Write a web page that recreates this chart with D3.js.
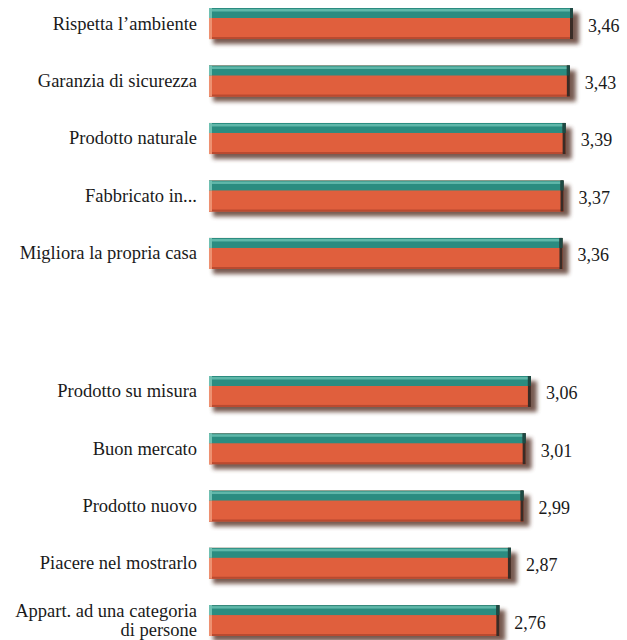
<!DOCTYPE html>
<html><head><meta charset="utf-8">
<script src="https://cdn.jsdelivr.net/npm/d3@7"></script>
<style>html,body{margin:0;padding:0;background:#fff;} svg{display:block;} text{font-family:'Liberation Serif','Times New Roman',serif;}</style>
</head><body>
<script>
const group1 = ["Rispetta l’ambiente","Garanzia di sicurezza","Prodotto naturale","Fabbricato in...","Migliora la propria casa"];
const values1 = [3.46,3.43,3.39,3.37,3.36];
const group2 = ["Prodotto su misura","Buon mercato","Prodotto nuovo","Piacere nel mostrarlo","Appart. ad una categoria\ndi persone"];
const values2 = [3.06,3.01,2.99,2.87,2.76];
const valueLabels1 = ["3,46","3,43","3,39","3,37","3,36"];
const valueLabels2 = ["3,06","3,01","2,99","2,87","2,76"];

const W = 627, H = 640;
const svg = d3.select("body").append("svg").attr("width", W).attr("height", H);
const defs = svg.append("defs");
const f = defs.append("filter").attr("id","sh").attr("x","-5%").attr("y","-50%").attr("width","115%").attr("height","250%");
f.append("feGaussianBlur").attr("stdDeviation", 2);

const x = d3.scaleLinear().domain([0, 3.46]).range([209, 573]);
const y1 = d3.scaleBand().domain(group1).range([8, 269]).paddingInner(0.46).paddingOuter(0);
const y2 = d3.scaleBand().domain(group2).range([376, 636]).paddingInner(0.46).paddingOuter(0);

function drawGroup(names, vals, labels, y) {
  const barH = y.bandwidth();
  const g = svg.append("g");
  const rows = names.map((n, i) => ({name: n, v: vals[i], lab: labels[i]}));
  const r = g.selectAll("g.row").data(rows).join("g").attr("class","row")
    .attr("transform", d => `translate(0,${y(d.name)})`);
  // shadow
  r.append("rect").attr("x", x(0) + 4).attr("y", 5).attr("width", d => x(d.v) - x(0) + 2).attr("height", barH)
    .attr("fill", "#5e3e30").attr("opacity", 0.85).attr("filter","url(#sh)");
  // orange body
  r.append("rect").attr("x", x(0)).attr("y", 0).attr("width", d => x(d.v) - x(0)).attr("height", barH).attr("fill", "#e05f3d");
  // teal top
  r.append("rect").attr("x", x(0)).attr("y", 0).attr("width", d => x(d.v) - x(0)).attr("height", 10).attr("fill", "#2b8c80");
  r.append("rect").attr("x", x(0)).attr("y", 1).attr("width", d => x(d.v) - x(0)).attr("height", 2.5).attr("fill", "#5fb7a9");
  // lower darker strip on orange
  r.append("rect").attr("x", x(0)).attr("y", barH - 2).attr("width", d => x(d.v) - x(0)).attr("height", 2).attr("fill", "#b94a30");
  // left bevel
  r.append("rect").attr("x", x(0)).attr("y", 10).attr("width", 3).attr("height", barH - 10).attr("fill", "#ee9070");
  r.append("rect").attr("x", x(0)).attr("y", 0).attr("width", 3).attr("height", 10).attr("fill", "#6fc0b2");
  // right dark end
  r.append("rect").attr("x", d => x(d.v) - 3).attr("y", 0).attr("width", 3).attr("height", barH).attr("fill", "#3a2c26");
  r.append("rect").attr("x", d => x(d.v) - 3).attr("y", 0).attr("width", 3).attr("height", 10).attr("fill", "#1d4a44");
  // category labels (one text element per line)
  r.each(function(d) {
    const lines = d.name.split("\n");
    const lh = 18.5;
    const y0 = barH / 2 + 6 - (lines.length - 1) * lh / 2;
    lines.forEach((ln, k) => d3.select(this).append("text")
      .attr("text-anchor", "end")
      .attr("font-size", 18.5).attr("fill", "#1a1a1a")
      .attr("x", 197).attr("y", y0 + k * lh).text(ln));
  });
  // value labels
  r.append("text").attr("x", d => x(d.v) + 15).attr("y", barH / 2 + 8)
    .attr("font-size", 18).attr("fill", "#1a1a1a")
    .text(d => d.lab);
}
drawGroup(group1, values1, valueLabels1, y1);
drawGroup(group2, values2, valueLabels2, y2);
</script>
</body></html>
